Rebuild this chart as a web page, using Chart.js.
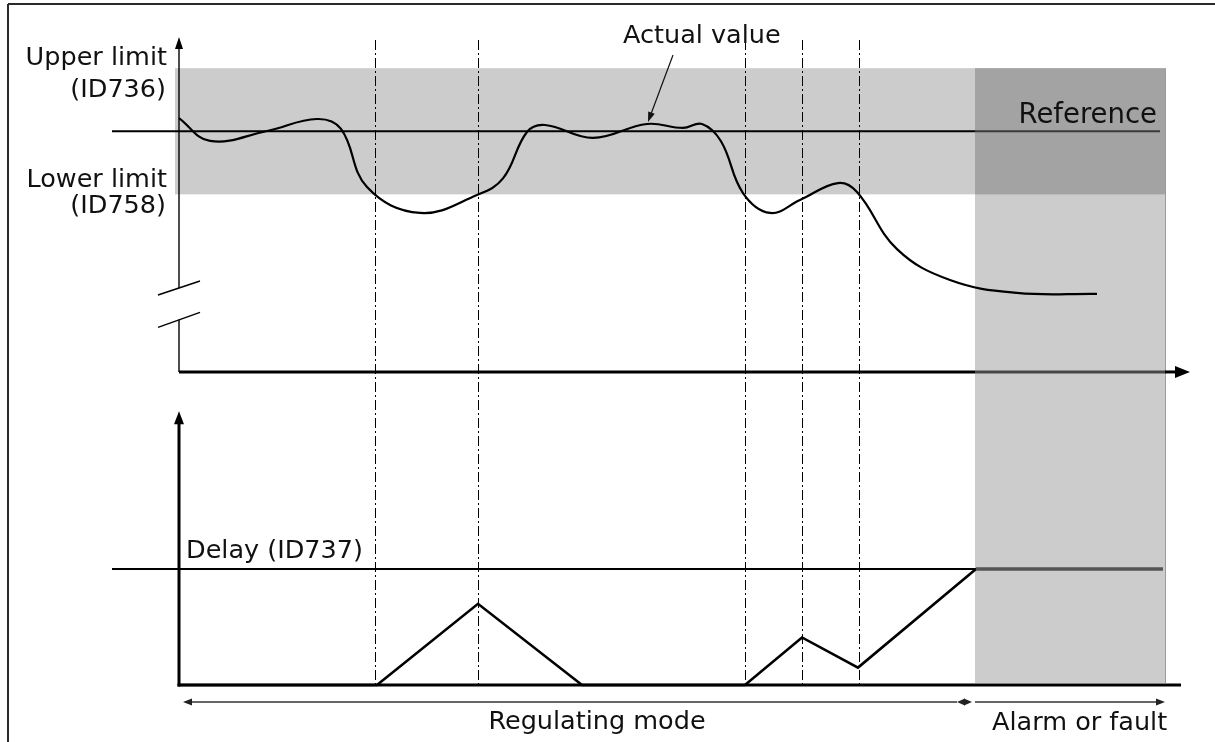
<!DOCTYPE html>
<html>
<head>
<meta charset="utf-8">
<title>Supervision delay</title>
<script src="https://cdn.jsdelivr.net/npm/chart.js@4.4.0/dist/chart.umd.min.js"></script>
<style>
	html, body { margin: 0; padding: 0; background: #fff; }
	#chart { display: block; }
</style>
</head>
<body>
<canvas id="chart" width="1215" height="742"></canvas>
<script>
// time axis in arbitrary units, 0 = vertical axis
const eventTimes = [19.55, 29.85, 56.55, 62.3, 68.0];
const alarmStart = 79.6;
const alarmEnd = 98.6;

// upper panel: process value
const upperLimit = 91.5;
const lowerLimit = 53.5;
const referenceLevel = 72.5;
const referenceTime = [-6.7, 79.6, 98.1];

const actualTime = [0, 3.1, 8.8, 13.8, 16.2, 18.8, 24.1, 29.8, 32.4, 34.8, 36.6, 41.4, 46.8, 50.4, 52.3, 54.2, 56.4, 59.1, 62.1, 65.9, 67.8, 71.8, 77.1, 83.8, 91.8];
const actualValue = [76.5, 69.6, 72.6, 76.2, 73.2, 55.7, 47.9, 53.3, 58.3, 72.3, 74.4, 70.5, 74.7, 73.5, 74.7, 69.5, 53.9, 47.9, 51.8, 56.9, 54.2, 37.0, 27.7, 23.8, 23.5];

// lower panel: delay counter (s)
const delayLimit = 10;
const delayLimitTime = [-6.7, 79.7, 98.4];
const delayTime = [0, 19.8, 29.9, 40.3, 56.6, 62.3, 67.9, 79.7];
const delayValue = [0, 0, 7.0, 0, 0, 4.1, 1.5, 10];

const
	labelUpper = ['Upper limit', '(ID736)'],
	labelLower = ['Lower limit', '(ID758)'],
	labelActual = 'Actual value',
	labelReference = 'Reference',
	labelDelay = 'Delay (ID737)',
	labelRegulating = 'Regulating mode',
	labelAlarm = 'Alarm or fault';

const xy = (xs, ys) => xs.map((x, i) => ({x, y: ys[i]}));

function line(ctx, x1, y1, x2, y2) {
	ctx.beginPath();
	ctx.moveTo(x1, y1);
	ctx.lineTo(x2, y2);
	ctx.stroke();
}

function arrowHead(ctx, tx, ty, dx, dy, len, half) {
	const bx = tx - dx * len, by = ty - dy * len;
	ctx.beginPath();
	ctx.moveTo(tx, ty);
	ctx.lineTo(bx - dy * half, by + dx * half);
	ctx.lineTo(bx + dy * half, by - dx * half);
	ctx.closePath();
	ctx.fill();
}

const diagramPlugin = {
	id: 'diagram',
	beforeDatasetsDraw(chart) {
		const
			{ctx, chartArea: a, scales: {x, yValue, yDelay}} = chart,
			px = v => x.getPixelForValue(v),
			x0 = px(0),
			xa = px(alarmStart),
			xb = px(alarmEnd),
			yU = yValue.getPixelForValue(upperLimit),
			yL = yValue.getPixelForValue(lowerLimit),
			yAxisTop = yValue.getPixelForValue(0),
			yAxisBot = yDelay.getPixelForValue(0);

		ctx.save();
		// limit band and alarm column
		ctx.fillStyle = '#cccccc';
		ctx.fillRect(x0 - 4, yU, xa - x0 + 4, yL - yU);
		ctx.fillRect(xa, yU, xb - xa, yAxisBot - 2 - yU);
		ctx.fillStyle = '#a3a3a3';
		ctx.fillRect(xa, yU, xb - xa, yL - yU);
		ctx.strokeStyle = '#9a9a9a';
		ctx.lineWidth = 1;
		line(ctx, Math.round(xb) + 0.5, yU, Math.round(xb) + 0.5, yAxisBot - 2);

		// event lines
		ctx.strokeStyle = '#000';
		ctx.lineWidth = 1;
		ctx.setLineDash([10, 3, 2, 3]);
		eventTimes.forEach(t => {
			const p = Math.round(px(t)) + 0.5;
			line(ctx, p, a.top, p, a.bottom);
		});
		ctx.setLineDash([]);

		// upper panel axes
		const
			brk1 = yValue.getPixelForValue(25.3),
			brk2 = yValue.getPixelForValue(15.7);
		ctx.strokeStyle = '#000';
		ctx.fillStyle = '#000';
		ctx.lineWidth = 1.4;
		line(ctx, x0, a.top + 8, x0, brk1);
		line(ctx, x0, brk2, x0, yAxisTop);
		arrowHead(ctx, x0, a.top - 3, 0, -1, 12, 4);
		line(ctx, x0 - 21, brk1 + 7, x0 + 21, brk1 - 7);
		line(ctx, x0 - 21, brk2 + 7.5, x0 + 21, brk2 - 7.5);

		ctx.lineWidth = 3;
		line(ctx, x0, yAxisTop, xa, yAxisTop);
		ctx.strokeStyle = '#474747';
		line(ctx, xa, yAxisTop, xb, yAxisTop);
		ctx.strokeStyle = '#000';
		line(ctx, xb, yAxisTop, px(99.7), yAxisTop);
		arrowHead(ctx, px(101.1), yAxisTop, 1, 0, 15, 6);

		// lower panel axes
		const yTip = yDelay.getPixelForValue(23.6);
		line(ctx, x0, yAxisBot + 1.5, x0, yTip + 10);
		arrowHead(ctx, x0, yTip, 0, -1, 13, 5);
		line(ctx, x0 - 1.5, yAxisBot, px(100.2), yAxisBot);
		ctx.restore();
	},
	afterDraw(chart) {
		const
			{ctx, scales: {x, yValue, yDelay}} = chart,
			px = v => x.getPixelForValue(v),
			x0 = px(0),
			xa = px(alarmStart),
			xb = px(alarmEnd),
			yU = yValue.getPixelForValue(upperLimit),
			yL = yValue.getPixelForValue(lowerLimit),
			yRef = yValue.getPixelForValue(referenceLevel),
			yDel = yDelay.getPixelForValue(delayLimit),
			yAxisBot = yDelay.getPixelForValue(0);

		ctx.save();
		ctx.fillStyle = '#111';
		ctx.textBaseline = 'alphabetic';
		ctx.font = '25.5px "DejaVu Sans"';

		ctx.textAlign = 'right';
		ctx.fillText(labelUpper[0], x0 - 12, yU - 3);
		ctx.fillText(labelUpper[1], x0 - 13, yU + 29);
		ctx.fillText(labelLower[0], x0 - 12, yL - 7);
		ctx.fillText(labelLower[1], x0 - 13, yL + 19);

		ctx.textAlign = 'left';
		ctx.fillText(labelActual, 623, 43);
		ctx.fillText(labelDelay, x0 + 7, yDel - 11);
		ctx.fillText(labelAlarm, xa + 17, 730);
		ctx.textAlign = 'center';
		ctx.fillText(labelRegulating, 597, 729);

		ctx.textAlign = 'right';
		ctx.font = '27.5px "DejaVu Sans"';
		ctx.fillText(labelReference, xb - 8, yRef - 8);

		// pointer to the actual value curve
		ctx.strokeStyle = '#111';
		ctx.fillStyle = '#111';
		ctx.lineWidth = 1.2;
		const ux = -0.35, uy = 0.937;
		line(ctx, 673, 55, 648 - ux * 8, 122 - uy * 8);
		arrowHead(ctx, 648, 122, ux, uy, 10, 3.5);

		// mode ranges under the time axis
		const yArr = yAxisBot + 17;
		ctx.strokeStyle = '#333';
		ctx.fillStyle = '#222';
		ctx.lineWidth = 1.4;
		line(ctx, x0 + 10, yArr, xa - 18, yArr);
		arrowHead(ctx, x0 + 4, yArr, -1, 0, 9, 3.5);
		arrowHead(ctx, xa - 18, yArr, -1, 0, 8, 3.5);
		arrowHead(ctx, xa - 3, yArr, 1, 0, 8, 3.5);
		line(ctx, xa, yArr, xb - 6, yArr);
		arrowHead(ctx, xb, yArr, 1, 0, 9, 3.5);

		// outer frame
		ctx.strokeStyle = '#2a2a2a';
		ctx.lineWidth = 2;
		line(ctx, 8, 4, 1215, 4);
		line(ctx, 8, 4, 8, 742);
		ctx.restore();
	}
};

new Chart(document.getElementById('chart'), {
	type: 'line',
	data: {
		datasets: [
			{
				data: xy(referenceTime, referenceTime.map(() => referenceLevel)),
				yAxisID: 'yValue',
				borderColor: '#000',
				borderWidth: 2,
				pointRadius: 0,
				clip: false,
				segment: {
					borderColor: c => c.p0.parsed.x >= alarmStart ? '#3a3a3a' : '#000'
				}
			},
			{
				data: xy(actualTime, actualValue),
				yAxisID: 'yValue',
				borderColor: '#000',
				borderWidth: 2.2,
				pointRadius: 0,
				tension: 0.4,
				clip: false
			},
			{
				data: xy(delayLimitTime, delayLimitTime.map(() => delayLimit)),
				yAxisID: 'yDelay',
				borderColor: '#000',
				borderWidth: 2,
				pointRadius: 0,
				clip: false,
				segment: {
					borderColor: c => c.p0.parsed.x >= alarmStart ? '#555' : '#000',
					borderWidth: c => c.p0.parsed.x >= alarmStart ? 3.5 : 2
				}
			},
			{
				data: xy(delayTime, delayValue),
				yAxisID: 'yDelay',
				borderColor: '#000',
				borderWidth: 2.6,
				pointRadius: 0,
				tension: 0,
				clip: false
			}
		]
	},
	options: {
		responsive: false,
		animation: false,
		devicePixelRatio: 1,
		layout: {padding: {left: 179, right: 36, top: 40, bottom: 57}},
		plugins: {
			legend: {display: false},
			tooltip: {enabled: false}
		},
		scales: {
			x: {type: 'linear', min: 0, max: 100, display: false},
			yValue: {type: 'linear', min: -94.3, max: 100, display: false},
			yDelay: {type: 'linear', min: 0, max: 55.6, display: false}
		}
	},
	plugins: [diagramPlugin]
});
</script>
</body>
</html>
